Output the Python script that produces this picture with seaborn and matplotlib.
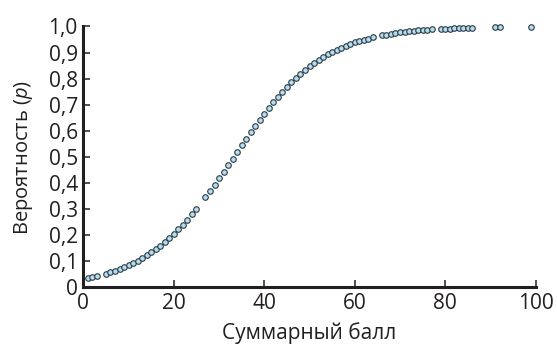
import matplotlib
matplotlib.use("Agg")
import matplotlib.pyplot as plt
import seaborn as sns
import pandas as pd

score = [1, 2, 3, 5, 6, 7, 8, 9, 10, 11, 12, 13, 14, 15, 16, 17, 18, 19, 20,
         21, 22, 23, 24, 25, 27, 28, 29, 30, 31, 32, 33, 34, 35, 36, 37, 38, 39,
         40, 41, 42, 43, 44, 45, 46, 47, 48, 49, 50, 51, 52, 53, 54, 55, 56, 57,
         58, 59, 60, 61, 62, 63, 64, 66, 67, 68, 69, 70, 71, 72, 73, 74, 75, 76,
         77, 79, 80, 81, 82, 83, 84, 85, 86, 91, 92, 99]
prob = [0.036, 0.040, 0.044, 0.053, 0.059, 0.064, 0.071, 0.078, 0.085, 0.094,
        0.103, 0.113, 0.123, 0.135, 0.147, 0.160, 0.175, 0.190, 0.206, 0.223,
        0.241, 0.260, 0.280, 0.302, 0.346, 0.370, 0.394, 0.418, 0.443, 0.469,
        0.494, 0.519, 0.545, 0.570, 0.595, 0.619, 0.643, 0.666, 0.688, 0.710,
        0.730, 0.750, 0.769, 0.786, 0.803, 0.818, 0.833, 0.847, 0.860, 0.871,
        0.882, 0.893, 0.902, 0.911, 0.919, 0.926, 0.933, 0.939, 0.944, 0.949,
        0.954, 0.958, 0.966, 0.969, 0.972, 0.975, 0.977, 0.979, 0.981, 0.983,
        0.985, 0.986, 0.987, 0.989, 0.991, 0.992, 0.992, 0.993, 0.994, 0.994,
        0.995, 0.995, 0.997, 0.998, 0.999]
x_ticks = [0, 20, 40, 60, 80, 100]
y_ticks = [0.0, 0.1, 0.2, 0.3, 0.4, 0.5, 0.6, 0.7, 0.8, 0.9, 1.0]
y_tick_labels = ["0", "0,1", "0,2", "0,3", "0,4", "0,5", "0,6", "0,7", "0,8", "0,9", "1,0"]
x_label = "Суммарный балл"
y_label = "Вероятность ($\\mathit{p}$)"

sns.set_style("ticks")
plt.rcParams["font.family"] = ["Open Sans", "DejaVu Sans"]
plt.rcParams["mathtext.fontset"] = "custom"
plt.rcParams["mathtext.it"] = "Open Sans:italic"
plt.rcParams["mathtext.rm"] = "Open Sans"

df = pd.DataFrame({"score": score, "prob": prob})

fig = plt.figure(figsize=(5.57, 3.5), dpi=100)
ax = fig.add_axes([0.1496, 0.1786, 0.9618 - 0.1496, 0.9243 - 0.1786])

sns.scatterplot(data=df, x="score", y="prob", ax=ax, s=16, color="#b6dcf0",
                edgecolor="#2b3a42", linewidth=0.8, clip_on=False, zorder=3)

ax.set_xlim(0, 100)
ax.set_ylim(0, 1.0)
ax.set_xticks(x_ticks)
ax.set_xticklabels([str(t) for t in x_ticks])
ax.set_yticks(y_ticks)
ax.set_yticklabels(y_tick_labels)
txt = "#231f20"
ax.tick_params(direction="in", length=5, width=1.1, colors=txt, labelsize=15, pad=4)
for s in ["top", "right"]:
    ax.spines[s].set_visible(False)
for s in ["left", "bottom"]:
    ax.spines[s].set_linewidth(2.2)
    ax.spines[s].set_color(txt)
ax.set_xlabel(x_label, fontsize=15, color=txt, labelpad=6)
ax.set_ylabel(y_label, fontsize=14.5, color=txt, labelpad=10)

fig.savefig("out.png", dpi=100)
